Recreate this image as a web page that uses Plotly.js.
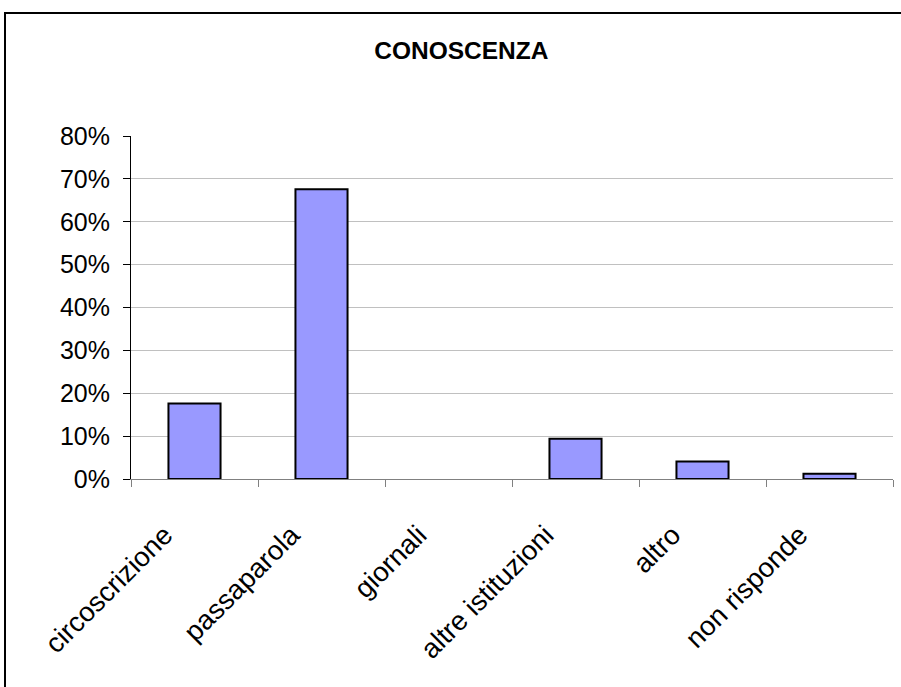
<!DOCTYPE html>
<html>
<head>
<meta charset="utf-8">
<script src="https://cdn.plot.ly/plotly-3.0.1.min.js"></script>
<style>
  html, body { margin: 0; padding: 0; background: #ffffff; overflow: hidden; }
  #chart { width: 901px; height: 687px; }
  #frame {
    position: absolute; left: 4px; top: 12px;
    width: 1000px; height: 1000px;
    border: 2px solid #000000; pointer-events: none;
  }
</style>
</head>
<body>
<div id="chart"></div>
<div id="frame"></div>
<script>
// Come si è venuti a conoscenza del servizio (quota sul totale delle risposte)
const categories = ["circoscrizione", "passaparola", "giornali", "altre istituzioni", "altro", "non risponde"];
const shares = [0.176, 0.676, 0, 0.094, 0.041, 0.012];
const yTickValues = [0, 0.1, 0.2, 0.3, 0.4, 0.5, 0.6, 0.7, 0.8];

const fontFamily = "Liberation Sans, Arial, sans-serif";

// empty categories get no outline, so a zero share leaves no visible mark
const outlineWidths = shares.map(v => (v > 0 ? 2 : 0));

const trace = {
  type: "bar",
  x: categories,
  y: shares,
  marker: { color: "#9999ff", line: { color: "#000000", width: outlineWidths } },
  hoverinfo: "skip"
};

const layout = {
  width: 901,
  height: 687,
  margin: { l: 131, r: 8, t: 136, b: 208 },
  paper_bgcolor: "#ffffff",
  plot_bgcolor: "#ffffff",
  bargap: 0.59,
  showlegend: false,
  font: { family: fontFamily, color: "#000000", size: 25 },
  title: {
    text: "<b>CONOSCENZA</b>",
    font: { family: fontFamily, size: 24.5, color: "#000000" },
    xref: "container", x: 0.512, xanchor: "center",
    yref: "container", y: 1 - 50 / 687, yanchor: "middle"
  },
  xaxis: {
    type: "category",
    range: [-0.5, categories.length - 0.5],
    tickangle: -45,
    tickson: "boundaries",
    ticks: "outside",
    ticklen: 7,
    tickcolor: "#808080",
    ticklabelstandoff: 28,
    ticklabelshift: -30,
    showline: true,
    linecolor: "#808080",
    linewidth: 1,
    showgrid: false,
    tickfont: { family: fontFamily, size: 27.5, color: "#000000" },
    automargin: false
  },
  yaxis: {
    range: [0, 0.8],
    tickvals: yTickValues,
    tickformat: ".0%",
    ticks: "outside",
    ticklen: 7,
    tickcolor: "#000000",
    ticklabelstandoff: 8,
    showline: true,
    linecolor: "#000000",
    linewidth: 1,
    showgrid: true,
    gridcolor: "#c0c0c0",
    gridwidth: 1,
    zeroline: false,
    tickfont: { family: fontFamily, size: 25, color: "#000000" },
    automargin: false
  }
};

Plotly.newPlot("chart", [trace], layout, { staticPlot: true, displayModeBar: false });
</script>
</body>
</html>
